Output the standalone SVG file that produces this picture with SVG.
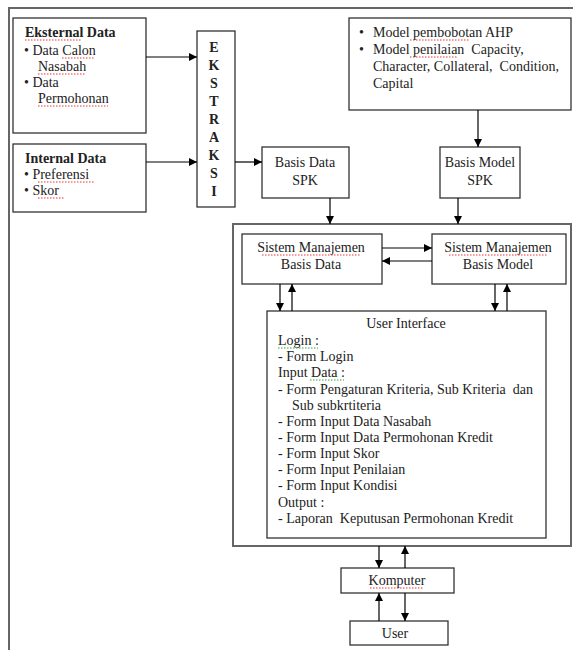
<svg xmlns="http://www.w3.org/2000/svg" width="573" height="650" viewBox="0 0 573 650">
<defs>
<marker id="ah" viewBox="0 0 10 10" refX="10" refY="5" markerWidth="8" markerHeight="8" markerUnits="userSpaceOnUse" orient="auto">
<path d="M0,0 L10,5 L0,10 z" fill="#000"/>
</marker>
</defs>
<rect width="573" height="650" fill="#fff"/>
<rect x="9" y="8" width="600" height="700" fill="none" stroke="#666" stroke-width="2"/>
<g id="eksternal">
<rect x="13" y="18" width="133" height="115" fill="#fff" stroke="#333" stroke-width="1.3"/>
<g font-family="Liberation Serif" font-size="14" fill="#222">
<text x="25" y="37" font-weight="bold">Eksternal Data</text>
<text x="24" y="55">• Data Calon</text>
<text x="38" y="71">Nasabah</text>
<text x="24" y="87">• Data</text>
<text x="38" y="103">Permohonan</text>
</g>
<path d="M25,40 H82 M62,58 H94 M38,74 H86 M38,106 H108" fill="none" stroke="#e33" stroke-dasharray="1.5 1.5"/>
</g>
<g id="internal">
<rect x="13" y="144" width="133" height="68" fill="#fff" stroke="#333" stroke-width="1.3"/>
<g font-family="Liberation Serif" font-size="14" fill="#222">
<text x="25" y="163" font-weight="bold">Internal Data</text>
<text x="24" y="179">• Preferensi</text>
<text x="24" y="195">• Skor</text>
</g>
<path d="M38,182 H95 M38,198 H64" fill="none" stroke="#e33" stroke-dasharray="1.5 1.5"/>
</g>
<g id="ekstraksi">
<rect x="197" y="31" width="38" height="176" fill="#fff" stroke="#333" stroke-width="1.3"/>
<text font-family="Liberation Serif" font-size="14" fill="#222" font-weight="bold" text-anchor="middle" x="214"><tspan x="214" y="52">E</tspan><tspan x="214" y="70">K</tspan><tspan x="214" y="88">S</tspan><tspan x="214" y="106">T</tspan><tspan x="214" y="124">R</tspan><tspan x="214" y="142">A</tspan><tspan x="214" y="160">K</tspan><tspan x="214" y="178">S</tspan><tspan x="214" y="196">I</tspan></text>
</g>
<g id="model">
<rect x="349" y="18" width="222" height="92" fill="#fff" stroke="#333" stroke-width="1.3"/>
<g font-family="Liberation Serif" font-size="14" fill="#222">
<text x="359" y="37">•</text>
<text x="373" y="37">Model pembobotan AHP</text>
<text x="359" y="54">•</text>
<text x="373" y="54" xml:space="preserve">Model penilaian  Capacity,</text>
<text x="373" y="71" xml:space="preserve">Character, Collateral,  Condition,</text>
<text x="373" y="88">Capital</text>
</g>
<path d="M410,40 H470 M410,57 H458" fill="none" stroke="#e33" stroke-dasharray="1.5 1.5"/>
</g>
<g id="basisdata">
<rect x="262" y="147" width="87" height="51" fill="#fff" stroke="#333" stroke-width="1.3"/>
<g font-family="Liberation Serif" font-size="14" fill="#222" text-anchor="middle">
<text x="305" y="167">Basis Data</text>
<text x="305" y="185">SPK</text>
</g>
</g>
<g id="basismodel">
<rect x="440" y="147" width="80" height="51" fill="#fff" stroke="#333" stroke-width="1.3"/>
<g font-family="Liberation Serif" font-size="14" fill="#222" text-anchor="middle">
<text x="480" y="167">Basis Model</text>
<text x="480" y="185">SPK</text>
</g>
</g>
<g id="container">
<rect x="233" y="224" width="338" height="322" fill="none" stroke="#666" stroke-width="2"/>
</g>
<g id="smbd">
<rect x="242" y="234" width="140" height="50" fill="#fff" stroke="#333" stroke-width="1.3"/>
<g font-family="Liberation Serif" font-size="14" fill="#222" text-anchor="middle">
<text x="311" y="252">Sistem Manajemen</text>
<text x="311" y="269">Basis Data</text>
</g>
<path d="M262,255 H360" fill="none" stroke="#e33" stroke-dasharray="1.5 1.5"/>
</g>
<g id="smbm">
<rect x="432" y="234" width="134" height="50" fill="#fff" stroke="#333" stroke-width="1.3"/>
<g font-family="Liberation Serif" font-size="14" fill="#222" text-anchor="middle">
<text x="498" y="252">Sistem Manajemen</text>
<text x="498" y="269">Basis Model</text>
</g>
<path d="M449,255 H547" fill="none" stroke="#e33" stroke-dasharray="1.5 1.5"/>
</g>
<g id="ui">
<rect x="267" y="311" width="279" height="227" fill="#fff" stroke="#333" stroke-width="1.3"/>
<g font-family="Liberation Serif" font-size="14" fill="#222">
<text x="406" y="328" text-anchor="middle">User Interface</text>
<text x="278" y="345">Login :</text>
<text x="278" y="361">- Form Login</text>
<text x="278" y="377">Input Data :</text>
<text x="278" y="394" xml:space="preserve">- Form Pengaturan Kriteria, Sub Kriteria  dan</text>
<text x="292" y="410">Sub subkrtiteria</text>
<text x="278" y="426">- Form Input Data Nasabah</text>
<text x="278" y="442">- Form Input Data Permohonan Kredit</text>
<text x="278" y="458">- Form Input Skor</text>
<text x="278" y="474">- Form Input Penilaian</text>
<text x="278" y="490">- Form Input Kondisi</text>
<text x="278" y="507">Output :</text>
<text x="278" y="523" xml:space="preserve">- Laporan  Keputusan Permohonan Kredit</text>
</g>
<path d="M278,348 H318 M310,380 H344" fill="none" stroke="#3a3" stroke-dasharray="1.5 1.5"/>
</g>
<g id="komputer">
<rect x="341" y="568" width="113" height="25" fill="#fff" stroke="#333" stroke-width="1.3"/>
<text font-family="Liberation Serif" font-size="14" fill="#222" text-anchor="middle" x="397" y="585">Komputer</text>
<path d="M370,588 H424" fill="none" stroke="#e33" stroke-dasharray="1.5 1.5"/>
</g>
<g id="user">
<rect x="350" y="621" width="98" height="24" fill="#fff" stroke="#333" stroke-width="1.3"/>
<text font-family="Liberation Serif" font-size="14" fill="#222" text-anchor="middle" x="395" y="638">User</text>
</g>
<g id="connectors" stroke="#000" stroke-width="1.2" marker-end="url(#ah)">
<line x1="146" y1="57" x2="197" y2="57"/>
<line x1="146" y1="162" x2="197" y2="162"/>
<line x1="235" y1="162" x2="262" y2="162"/>
<line x1="478" y1="110" x2="478" y2="147"/>
<line x1="330" y1="198" x2="330" y2="224"/>
<line x1="458" y1="198" x2="458" y2="224"/>
<line x1="382" y1="248" x2="432" y2="248"/>
<line x1="432" y1="261" x2="382" y2="261"/>
<line x1="280" y1="284" x2="280" y2="311"/>
<line x1="292" y1="311" x2="292" y2="284"/>
<line x1="495" y1="284" x2="495" y2="311"/>
<line x1="507" y1="311" x2="507" y2="284"/>
<line x1="379" y1="546" x2="379" y2="568"/>
<line x1="405" y1="568" x2="405" y2="546"/>
<line x1="379" y1="621" x2="379" y2="593"/>
<line x1="405" y1="593" x2="405" y2="621"/>
</g>
</svg>
